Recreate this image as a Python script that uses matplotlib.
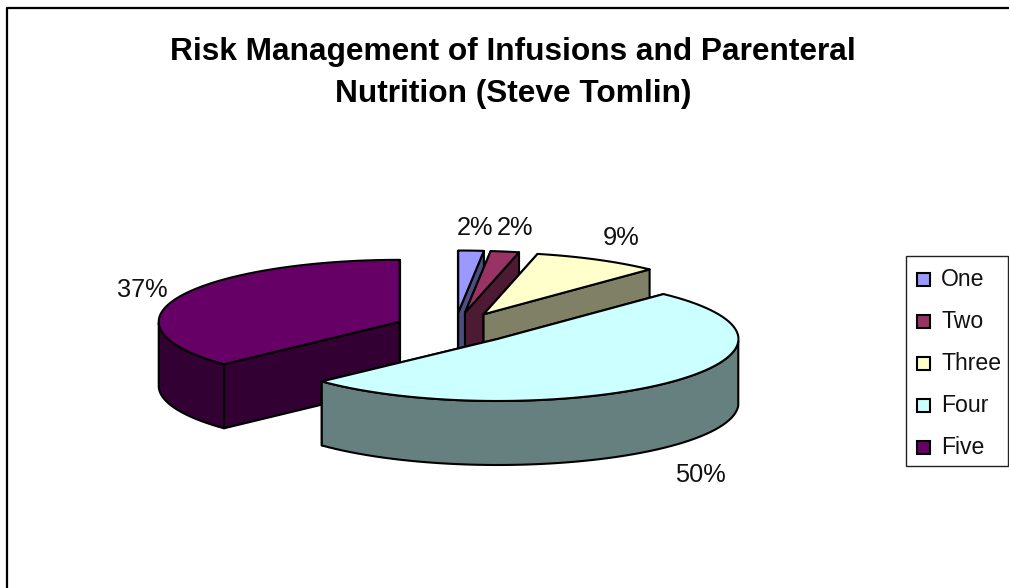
"""Risk management pie, drawn by hand as an exploded 3D pie"""

import numpy as np
import matplotlib
matplotlib.use("Agg")
import matplotlib.pyplot as plt
from matplotlib.patches import Polygon, Rectangle

plt.rcParams["font.family"] = ["Liberation Sans", "DejaVu Sans"]

title_lines = ["Risk Management of Infusions and Parenteral", "Nutrition (Steve Tomlin)"]
categories = ["One", "Two", "Three", "Four", "Five"]
values = [1.7, 1.9, 8.5, 50.9, 37.0]
pct_labels = ["2%", "2%", "9%", "50%", "37%"]
top_colors = ["#9999FF", "#993366", "#FFFFCC", "#CCFFFF", "#660066"]
wall_colors = ["#4D4D80", "#4D1A33", "#808066", "#668080", "#330033"]
label_pos = [(475, 235), (515, 235), (621, 245), (700, 482), (142, 297)]

W, H = 1009, 588
CX, CY = 455, 328
RX, RY = 241, 62
DEPTH = 64
EXPLODE = 0.25

fig = plt.figure(figsize=(W / 100, H / 100), dpi=100)
ax = fig.add_axes([0, 0, 1, 1])
ax.set_xlim(0, W)
ax.set_ylim(H, 0)
ax.axis("off")


def ell(cx, cy, angle):
    """Punto del borde; angulo en grados, desde arriba y en sentido horario"""
    t = np.radians(angle)
    return cx + RX * np.sin(t), cy - RY * np.cos(t)


# marco del grafico: solo quedan el lado izquierdo y el superior
ax.plot([7, 7, W], [H, 8, 8], color="black", lw=1.6, clip_on=False)

shares = np.array(values) / sum(values) * 360
starts = np.concatenate([[0], np.cumsum(shares)[:-1]])
draw_order = [0, 1, 2, 4, 3]

for i in draw_order:
    a0, a1 = starts[i], starts[i] + shares[i]
    mid = np.radians((a0 + a1) / 2)
    cx = CX + EXPLODE * RX * np.sin(mid)
    cy = CY - EXPLODE * RY * np.cos(mid)
    angles = np.linspace(a0, a1, 80)
    xs, ys = ell(cx, cy, angles)

    # caras radiales
    for a in (a0, a1):
        ex, ey = ell(cx, cy, a)
        face = [(cx, cy), (ex, ey), (ex, ey + DEPTH), (cx, cy + DEPTH)]
        ax.add_patch(Polygon(face, closed=True, fc=wall_colors[i], ec="black",
                             lw=1.5, joinstyle="round"))

    # pared exterior, solo la parte delantera
    front = angles[(angles >= 90) & (angles <= 270)]
    if len(front) > 1:
        fx, fy = ell(cx, cy, front)
        wall = np.column_stack([np.r_[fx, fx[::-1]], np.r_[fy, fy[::-1] + DEPTH]])
        ax.add_patch(Polygon(wall, closed=True, fc=wall_colors[i], ec="black",
                             lw=1.5, joinstyle="round"))

    top = np.column_stack([np.r_[cx, xs], np.r_[cy, ys]])
    ax.add_patch(Polygon(top, closed=True, fc=top_colors[i], ec="black",
                         lw=1.5, joinstyle="round"))

for text, (x, y) in zip(pct_labels, label_pos):
    ax.text(x, y, text, fontsize=18.3, ha="center", va="baseline", color="#111111")

for line, y in zip(title_lines, [60, 102]):
    ax.text(513, y, line, fontsize=22.8, fontweight="bold", ha="center", va="baseline",
            color="black")

# leyenda
ax.add_patch(Rectangle((906, 256), 102, 210, fc="white", ec="#222222", lw=1))
for i, name in enumerate(categories):
    y = 286 + i * 42
    ax.add_patch(Rectangle((917, y - 13), 13, 13, fc=top_colors[i], ec="black", lw=1.5))
    ax.text(941, y, name, fontsize=16.6, ha="left", va="baseline", color="#111111")

fig.savefig("out.png", dpi=100)
plt.close(fig)
